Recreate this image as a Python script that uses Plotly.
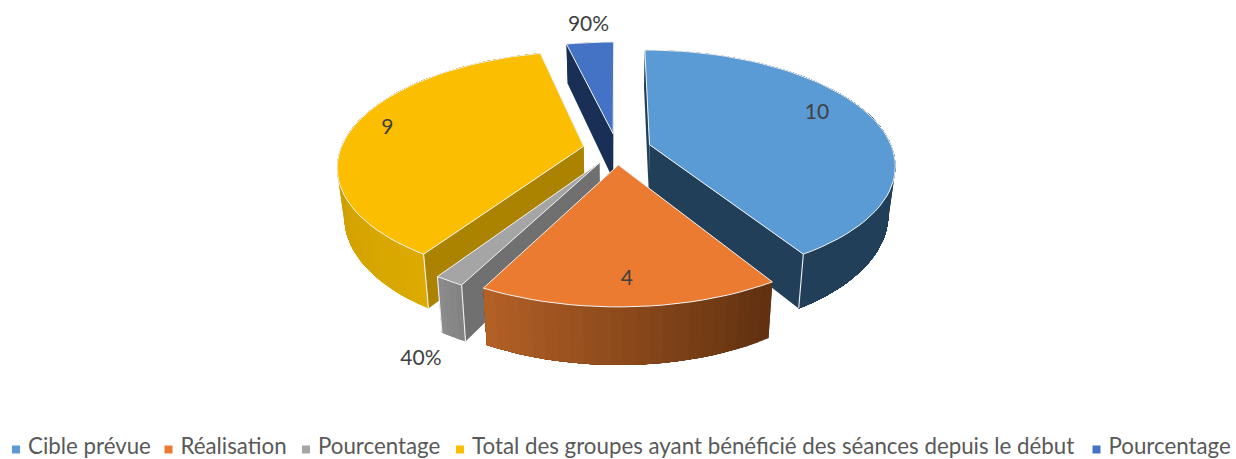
import math
import plotly.graph_objects as go

# ---- data -------------------------------------------------------------
categories = ["Cible prévue", "Réalisation", "Pourcentage",
              "Total des groupes ayant bénéficié des séances depuis le début", "Pourcentage"]
values = [10, 4, 0.4, 9, 0.9]
value_labels = ["10", "4", "40%", "9", "90%"]

# ---- styles -----------------------------------------------------------
top_colors = ["#5b9bd5", "#eb7b30", "#a5a5a5", "#fcbe00", "#4472c4"]
radial_colors = ["#223f59", "#6b3a15", "#707070", "#ab8300", "#1a2f55"]
arc_start_colors = ["#223f59", "#5f3010", "#828282", "#dcaa00", "#1a2f55"]
arc_end_colors = ["#223f59", "#b46126", "#8c8c8c", "#b48a00", "#1a2f55"]
white_corner_start = [False, False, True, True, False]
white_corner_end = [True, False, True, False, False]
white_corner_flags = list(zip(white_corner_start, white_corner_end))
label_radius = [0.94, 0.965, 1.547, 1.0, 1.38]
label_angle = [68, 178, 203.4, 282, 354]
LABEL_DY = 2
legend_marker_x = [16, 168.5, 306, 460, 1096.5]
legend_marker_y = 449.5
legend_text_y = 448
legend_text_gap = 12

# projection of the tilted, exploded pie on the page
CX, CY, RX, RY, PERSP, EXPLODE, DEPTH, SHRINK = 617, 149, 243, 112, 0.168, 0.14, 47, 0.975


def project(X, Y, bottom=False):
    s = 1 / (1 + PERSP * Y)
    x = CX + RX * X * s
    y = CY - RY * Y * s
    if bottom:
        x = CX + (x - CX) * SHRINK
        y += DEPTH * s
    return x, y


def polar(angle):
    a = math.radians(angle)
    return math.sin(a), math.cos(a)


def mix(c1, c2, t):
    a = [int(c1[i:i + 2], 16) for i in (1, 3, 5)]
    b = [int(c2[i:i + 2], 16) for i in (1, 3, 5)]
    return "#%02x%02x%02x" % tuple(round(p + (q - p) * t) for p, q in zip(a, b))


def poly(fig, pts, fill, line=None, width=0.0):
    xs = [p[0] for p in pts] + [pts[0][0]]
    ys = [p[1] for p in pts] + [pts[0][1]]
    fig.add_trace(go.Scatter(x=xs, y=ys, mode="lines", fill="toself", fillcolor=fill,
                             line=dict(color=line or fill, width=width),
                             hoverinfo="skip", showlegend=False))


def seg(fig, a, b):
    fig.add_trace(go.Scatter(x=[a[0], b[0]], y=[a[1], b[1]], mode="lines",
                             line=dict(color="#f2f2f2", width=1.1),
                             hoverinfo="skip", showlegend=False))


fig = go.Figure()
total = sum(values)
starts = []
acc = 0
for v in values:
    starts.append(acc)
    acc += v / total * 360

# back-to-front painting order
order = [4, 0, 3, 2, 1]
for i in order:
    a0 = starts[i]
    a1 = a0 + values[i] / total * 360
    bx, by = polar((a0 + a1) / 2)
    ox, oy = bx * EXPLODE, by * EXPLODE
    n = max(4, int((a1 - a0) / 2.5))
    angles = [a0 + (a1 - a0) * k / n for k in range(n + 1)]
    rim = [(ox + polar(a)[0], oy + polar(a)[1]) for a in angles]

    # radial faces
    for p in (rim[0], rim[-1]):
        poly(fig, [project(ox, oy), project(*p), project(*p, True), project(ox, oy, True)],
             radial_colors[i])
    # outer wall with a horizontal shading; every strip reaches to the end of the
    # arc and the next one paints over it, so no seams show
    for k in range(n):
        t = (k + 0.5) / n
        col = mix(arc_start_colors[i], arc_end_colors[i], t)
        part = rim[k:]
        poly(fig, [project(*q) for q in part] + [project(*q, True) for q in reversed(part)], col)
    # top face
    poly(fig, [project(ox, oy)] + [project(*p) for p in rim], top_colors[i],
         line="#f4f4f4", width=1)
    flags = white_corner_flags[i]
    if flags[0]:
        seg(fig, project(*rim[0]), project(*rim[0], True))
    if flags[1]:
        seg(fig, project(*rim[-1]), project(*rim[-1], True))

# value labels
lx, ly = [], []
for r, a in zip(label_radius, label_angle):
    px, py = polar(a)
    x, y = project(r * px, r * py)
    lx.append(x)
    ly.append(y + LABEL_DY)
fig.add_trace(go.Scatter(x=lx, y=ly, mode="text", text=value_labels, textposition="middle center",
                         textfont=dict(family="Lato, Carlito, sans-serif", size=21, color="#404040"),
                         hoverinfo="skip", showlegend=False))

# legend row
for name, col, x in zip(categories, top_colors, legend_marker_x):
    fig.add_trace(go.Scatter(x=[x], y=[legend_marker_y], mode="markers",
                             marker=dict(symbol="square", size=8, color=col),
                             hoverinfo="skip", showlegend=False))
    fig.add_trace(go.Scatter(x=[x + legend_text_gap], y=[legend_text_y], mode="text", text=[name],
                             textposition="middle right", cliponaxis=False,
                             textfont=dict(family="Lato, Carlito, sans-serif", size=22.3, color="#595959"),
                             hoverinfo="skip", showlegend=False))

fig.update_layout(width=1236, height=459, margin=dict(l=0, r=0, t=0, b=0),
                  paper_bgcolor="white", plot_bgcolor="white", showlegend=False,
                  xaxis=dict(range=[0, 1236], visible=False, fixedrange=True),
                  yaxis=dict(range=[459, 0], visible=False, fixedrange=True))
fig.write_html("out.html", config={"displayModeBar": False},
               post_script="document.body.style.margin='0';")
